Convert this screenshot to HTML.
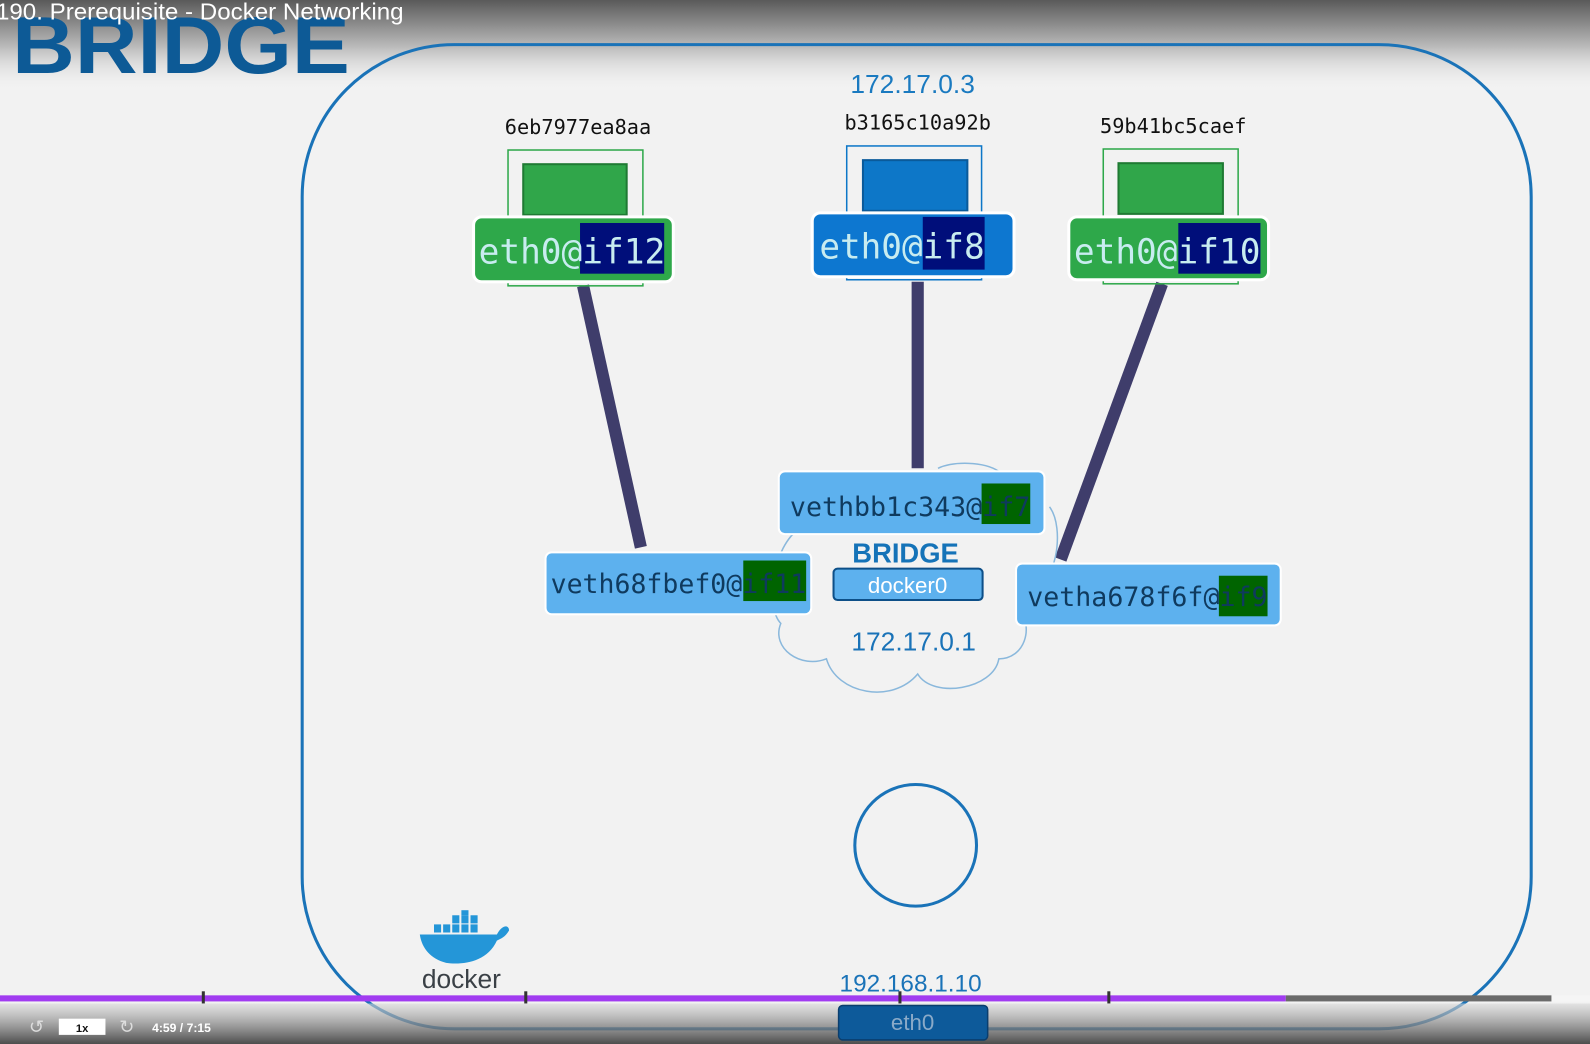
<!DOCTYPE html>
<html><head><meta charset="utf-8"><style>
html,body{margin:0;padding:0;width:1590px;height:1044px;overflow:hidden;background:#f2f2f2}
svg{display:block}
.m{font-family:"DejaVu Sans Mono","Liberation Mono",monospace}
.s{font-family:"Liberation Sans","DejaVu Sans",sans-serif}
</style></head><body>
<svg width="1590" height="1044" viewBox="0 0 1568 1030" preserveAspectRatio="none" xmlns="http://www.w3.org/2000/svg">
<defs>
<linearGradient id="top" x1="0" y1="0" x2="0" y2="1">
<stop offset="0" stop-color="#5a5a5a"/><stop offset="0.5" stop-color="#b8b8b8"/><stop offset="1" stop-color="#f2f2f2" stop-opacity="0"/>
</linearGradient>
<linearGradient id="bot" x1="0" y1="0" x2="0" y2="1">
<stop offset="0" stop-color="#d8d8d8" stop-opacity="0.6"/><stop offset="1" stop-color="#3a3a3a" stop-opacity="0.9"/>
</linearGradient>
</defs>
<rect width="1568" height="1030" fill="#f2f2f2"/>
<rect width="1568" height="90" fill="url(#top)"/>
<text x="12" y="72" class="s" font-size="80" font-weight="bold" fill="#0d5a96" textLength="333" lengthAdjust="spacingAndGlyphs">BRIDGE</text>
<text x="-4" y="19" class="s" font-size="23" fill="#ffffff" textLength="402" lengthAdjust="spacingAndGlyphs">190. Prerequisite - Docker Networking</text>

<rect x="298" y="44" width="1212" height="971" rx="150" fill="none" stroke="#1a73b8" stroke-width="3"/>

<line x1="575" y1="282" x2="632" y2="540" stroke="#3f3d6b" stroke-width="12"/>
<line x1="905" y1="278" x2="905" y2="462" stroke="#3f3d6b" stroke-width="12"/>
<line x1="1146" y1="280" x2="1046" y2="552" stroke="#3f3d6b" stroke-width="12"/>

<text x="570" y="132" class="m" font-size="20" text-anchor="middle" fill="#111">6eb7977ea8aa</text>
<rect x="501" y="148" width="133" height="134" fill="none" stroke="#2ea84a" stroke-width="1.5"/>
<rect x="516" y="162" width="102" height="50" fill="#30a64a" stroke="#1f7a33" stroke-width="2"/>
<rect x="467" y="214" width="197" height="64" rx="8" fill="#2ea84a" stroke="#fff" stroke-width="3"/>
<rect x="572" y="220" width="83" height="50" fill="#000e7a"/>
<text x="472" y="260" class="m" font-size="34" fill="#c8ecf0" textLength="184" lengthAdjust="spacingAndGlyphs">eth0@if12</text>

<text x="900" y="92" class="s" font-size="26" text-anchor="middle" fill="#1a7ac0">172.17.0.3</text>
<text x="905" y="128" class="m" font-size="20" text-anchor="middle" fill="#111">b3165c10a92b</text>
<rect x="835" y="144" width="133" height="132" fill="none" stroke="#0d77c8" stroke-width="1.5"/>
<rect x="851" y="158" width="103" height="50" fill="#0d77c8" stroke="#0a5a9a" stroke-width="2"/>
<rect x="801" y="210" width="199" height="63" rx="8" fill="#0d77d0" stroke="#fff" stroke-width="3"/>
<rect x="910" y="214" width="61" height="52" fill="#000e7a"/>
<text x="808" y="255" class="m" font-size="34" fill="#c8ecf0" textLength="163" lengthAdjust="spacingAndGlyphs">eth0@if8</text>

<text x="1157" y="131" class="m" font-size="20" text-anchor="middle" fill="#111">59b41bc5caef</text>
<rect x="1088" y="147" width="133" height="133" fill="none" stroke="#2ea84a" stroke-width="1.5"/>
<rect x="1103" y="161" width="103" height="50" fill="#30a64a" stroke="#1f7a33" stroke-width="2"/>
<rect x="1054" y="214" width="197" height="62" rx="8" fill="#2ea84a" stroke="#fff" stroke-width="3"/>
<rect x="1162" y="220" width="81" height="50" fill="#000e7a"/>
<text x="1059" y="260" class="m" font-size="34" fill="#c8ecf0" textLength="184" lengthAdjust="spacingAndGlyphs">eth0@if10</text>

<g fill="none" stroke="#8ab8dc" stroke-width="1.5">
<path d="M790 520 C760 540 755 600 770 615 C760 640 790 660 815 650 C825 685 880 695 905 665 C920 690 980 680 985 650 C1010 650 1020 620 1005 600 C1045 580 1050 520 1035 500"/>
<path d="M925 462 C940 455 970 455 985 465"/>
</g>

<rect x="768" y="465" width="262" height="62" rx="6" fill="#5db1ee" stroke="#fff" stroke-width="2"/>
<rect x="968" y="477" width="48" height="40" fill="#006400"/>
<text x="779" y="509" class="m" font-size="26" fill="#0f3a5e" textLength="237" lengthAdjust="spacingAndGlyphs">vethbb1c343@if7</text>

<rect x="538" y="545" width="262" height="61" rx="6" fill="#5db1ee" stroke="#fff" stroke-width="2"/>
<rect x="733" y="553" width="62" height="40" fill="#006400"/>
<text x="543" y="585" class="m" font-size="26" fill="#0f3a5e" textLength="252" lengthAdjust="spacingAndGlyphs">veth68fbef0@if11</text>

<rect x="1002" y="556" width="261" height="61" rx="6" fill="#5db1ee" stroke="#fff" stroke-width="2"/>
<rect x="1202" y="568" width="48" height="40" fill="#006400"/>
<text x="1013" y="598" class="m" font-size="26" fill="#0f3a5e" textLength="237" lengthAdjust="spacingAndGlyphs">vetha678f6f@if9</text>

<text x="893" y="555" class="s" font-size="27" font-weight="bold" text-anchor="middle" fill="#1573b8">BRIDGE</text>
<rect x="822" y="561" width="147" height="31" rx="4" fill="#5db1ee" stroke="#0d4f88" stroke-width="2"/>
<text x="895" y="585" class="s" font-size="22" text-anchor="middle" fill="#fff">docker0</text>
<text x="901" y="642" class="s" font-size="26" text-anchor="middle" fill="#1a73b8">172.17.0.1</text>

<circle cx="903" cy="834" r="60" fill="none" stroke="#1a73b8" stroke-width="3"/>

<g fill="#2496d8">
<path d="M414 922 L490 922 C495 912 502 912 502 918 C498 925 494 926 490 928 C480 950 455 952 440 950 C425 946 416 936 414 922 Z"/>
<rect x="428" y="912" width="7" height="8"/><rect x="437" y="912" width="7" height="8"/><rect x="446" y="912" width="7" height="8"/><rect x="455" y="912" width="7" height="8"/><rect x="464" y="912" width="7" height="8"/>
<rect x="446" y="903" width="7" height="8"/><rect x="455" y="903" width="7" height="8"/><rect x="464" y="903" width="7" height="8"/>
<rect x="455" y="898" width="7" height="5"/>
</g>
<text x="455" y="975" class="s" font-size="26" text-anchor="middle" fill="#3a4046">docker</text>

<text x="898" y="978" class="s" font-size="24" text-anchor="middle" fill="#1a73b8">192.168.1.10</text>

<rect x="0" y="990" width="1568" height="40" fill="url(#bot)"/>
<rect x="0" y="982" width="1268" height="6" fill="#a13cf0"/>
<rect x="1268" y="982" width="262" height="6" fill="#6b6b6b"/>
<rect x="1530" y="982" width="38" height="6" fill="#f5f5f5"/>
<g fill="#333"><rect x="199" y="978" width="3" height="12"/><rect x="517" y="978" width="3" height="12"/><rect x="886" y="978" width="3" height="12"/><rect x="1092" y="978" width="3" height="12"/></g>
<rect x="827" y="992" width="147" height="34" rx="4" fill="#0d5a9a" stroke="#0a3e6e" stroke-width="1.5"/>
<text x="900" y="1016" class="s" font-size="22" text-anchor="middle" fill="#8aaac8">eth0</text>
<rect x="58" y="1005" width="46" height="16" fill="#fff"/>
<text x="81" y="1018" class="s" font-size="11" font-weight="bold" text-anchor="middle" fill="#111">1x</text>
<text x="36" y="1019" class="s" font-size="18" text-anchor="middle" fill="#ddd">↺</text>
<text x="125" y="1019" class="s" font-size="18" text-anchor="middle" fill="#ddd">↻</text>
<text x="150" y="1018" class="s" font-size="12" font-weight="bold" fill="#fff">4:59 / 7:15</text>
</svg>
</body></html>
